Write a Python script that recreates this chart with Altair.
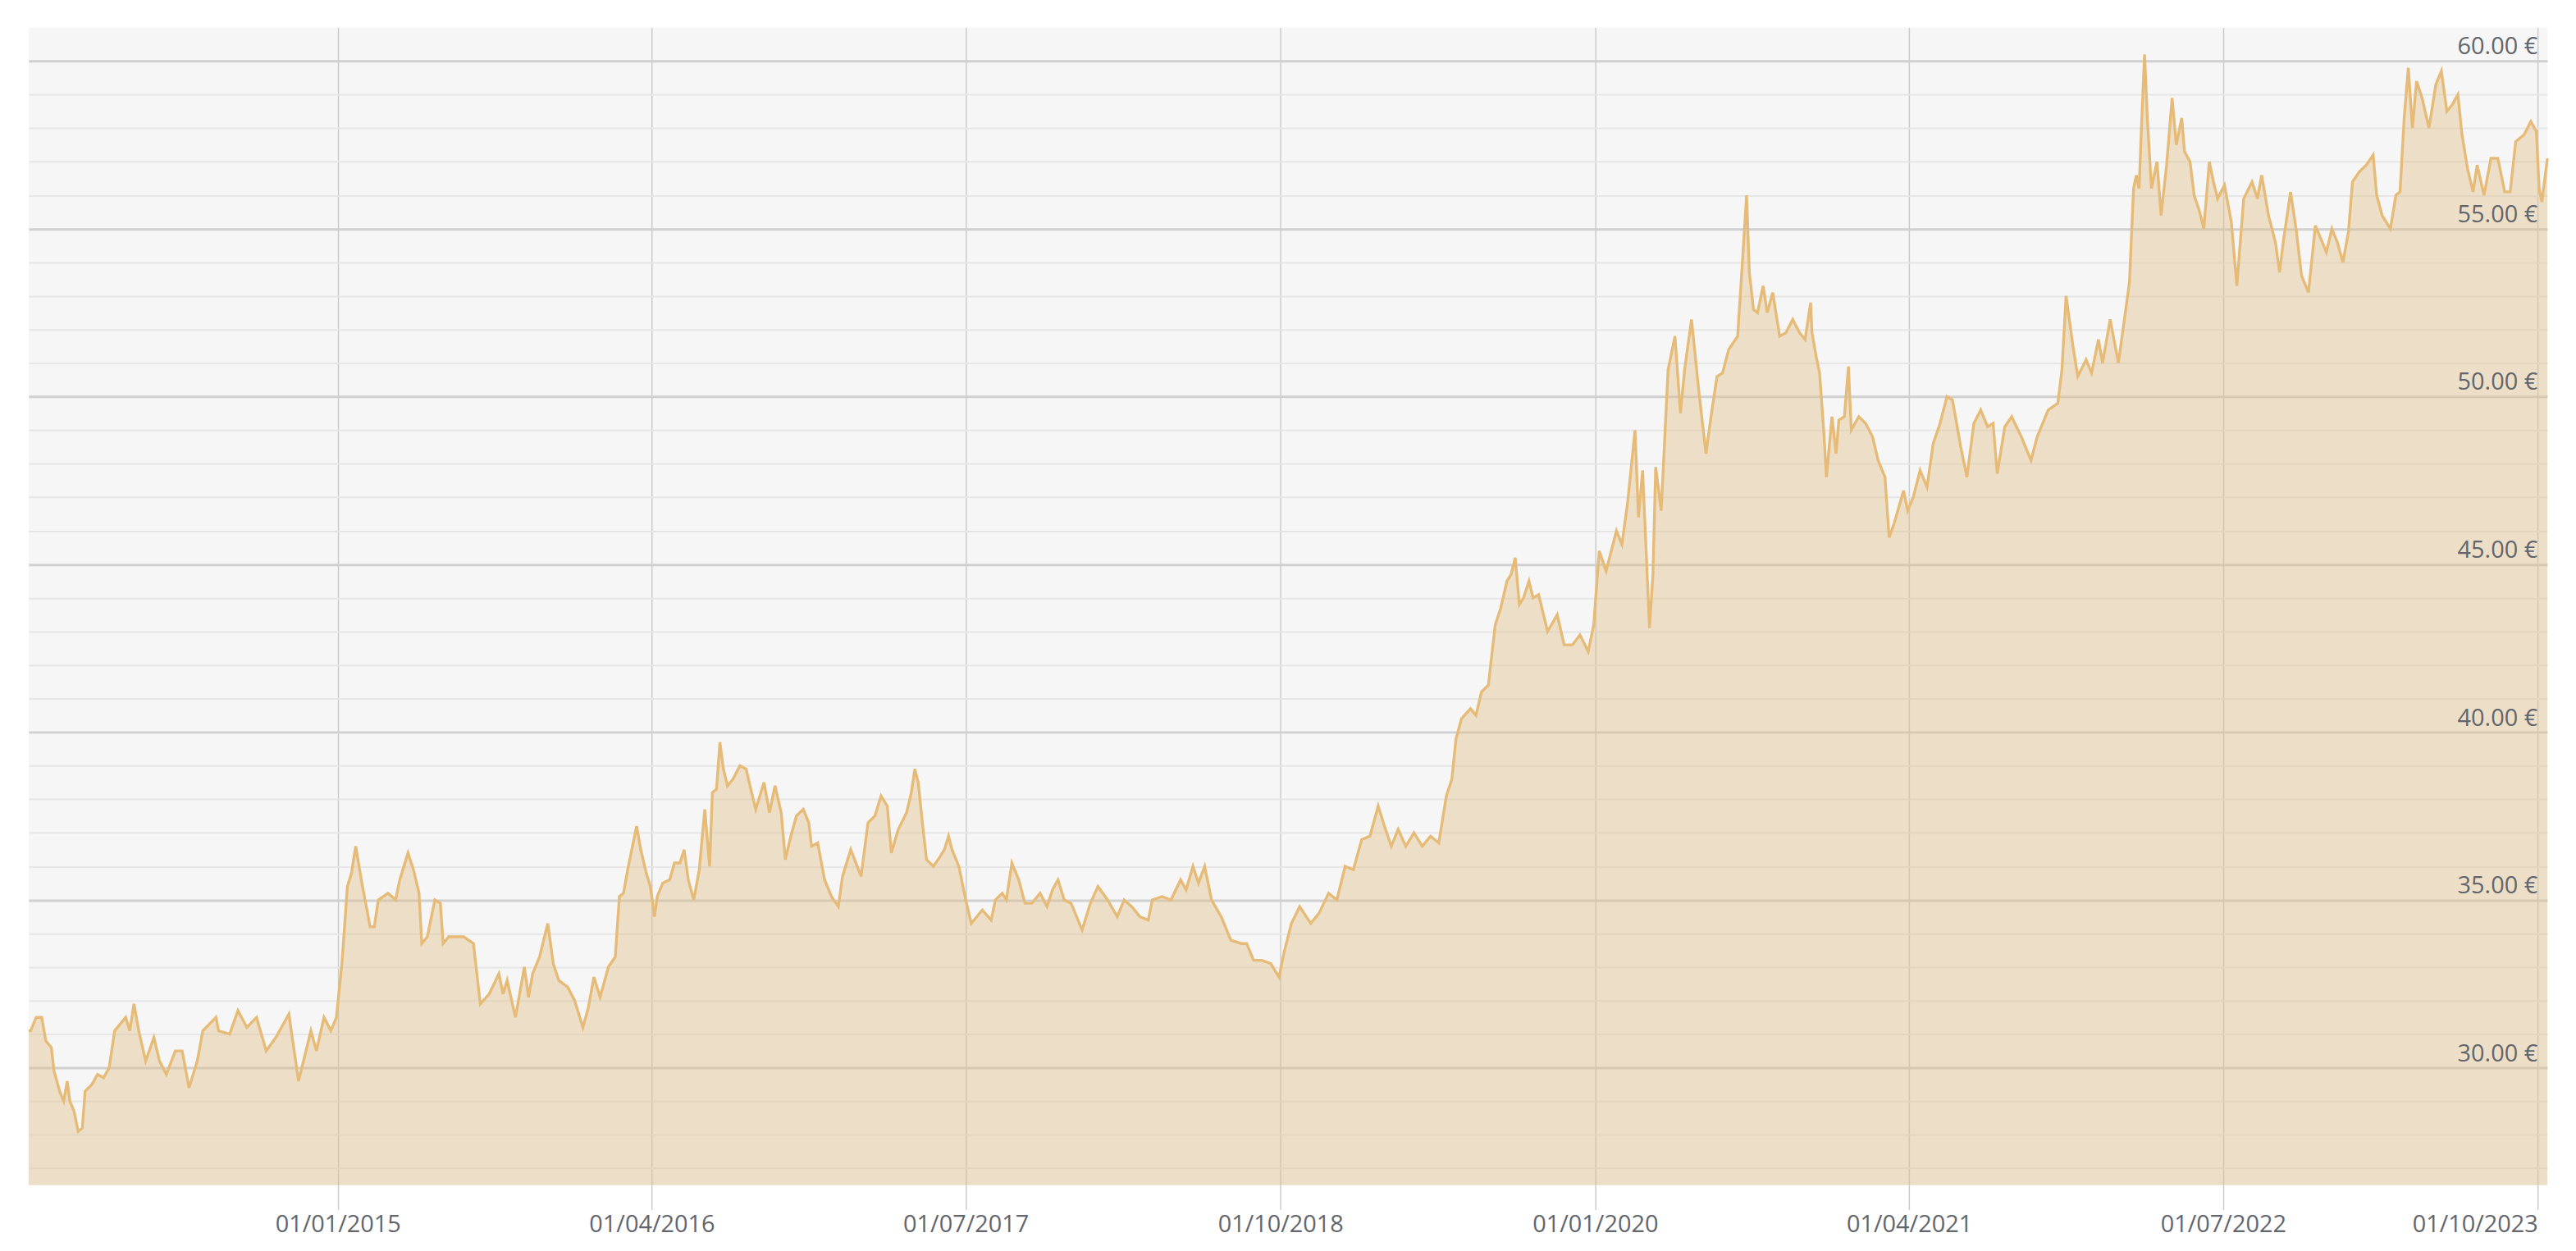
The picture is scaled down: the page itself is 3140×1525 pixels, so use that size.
import altair as alt
import pandas as pd

# ---- data ----
epoch = "2015-01-01"  # day offsets below are counted from this date

day_offsets = [
    -449, -446, -438, -430, -424, -416, -412, -404, -398, -393, -389, -383, -377, -371, -367,
    -357, -349, -340, -332, -324, -308, -302, -296, -289, -279, -267, -259, -249, -236, -226,
    -216, -204, -196, -177, -173, -157, -145, -132, -118, -104, -90, -71, -57, -39, -31, -20,
    -10, -2, 6, 14, 20, 26, 35, 47, 53, 59, 73, 84, 90, 102, 110, 118, 122, 130, 141, 149,
    153, 161, 177,
    183, 197, 207, 220, 234, 240, 246, 258, 271, 277, 283, 293, 305, 313, 321, 334, 344, 356,
    364, 372, 381, 393, 403, 409, 415, 421, 434, 440, 448, 454, 460, 464, 472, 482, 489, 497,
    503, 509, 517, 525, 533, 540, 544, 550, 555, 560, 566, 574, 584, 593, 601, 607, 613, 619,
    627, 635, 644, 650, 658, 666, 676, 684, 688, 697, 707, 717, 727, 733, 745, 760, 770, 780,
    789, 798,
    804, 814, 826, 833, 838, 843, 849, 855, 865, 875, 881, 887, 892, 902, 912, 920, 928, 936,
    949, 955, 965, 971, 979, 989, 998, 1008, 1020, 1030, 1038, 1046, 1055, 1065, 1081, 1093,
    1104, 1118, 1132, 1142, 1153, 1165, 1177, 1183, 1197, 1210, 1224, 1232, 1242, 1250, 1259,
    1269, 1283, 1297, 1312, 1320, 1330, 1342, 1355, 1367, 1375, 1385, 1397, 1413,
    1425, 1439, 1451, 1463, 1475, 1487, 1499, 1511, 1520, 1530, 1540, 1551, 1563, 1575, 1587,
    1599, 1610, 1618, 1624,
    1632, 1645, 1653, 1661, 1671, 1681, 1689, 1698, 1704, 1710, 1716, 1722, 1730, 1736, 1744,
    1757, 1771, 1781, 1793, 1804, 1816, 1824, 1832, 1842, 1857, 1865, 1873, 1884, 1889, 1895,
    1905, 1910, 1914, 1922, 1932, 1942, 1950, 1956, 1966, 1977, 1987, 1995, 2003, 2011, 2020,
    2033, 2039, 2046, 2050, 2056, 2062, 2070, 2076, 2084, 2094, 2103, 2113, 2123, 2131, 2139,
    2141, 2147, 2152, 2158, 2162, 2170, 2176, 2180, 2188, 2194, 2198, 2209, 2219, 2229, 2237,
    2247, 2253, 2260, 2274, 2280, 2288, 2298, 2308, 2317, 2327, 2337, 2345, 2357, 2366, 2376,
    2386, 2396, 2404, 2410, 2421, 2431, 2445, 2459, 2468, 2484, 2498, 2504, 2510, 2520, 2527,
    2539, 2547, 2557, 2563, 2574, 2586, 2598,
    2602, 2608, 2612, 2616, 2620, 2624, 2628, 2634, 2642, 2648, 2656, 2664, 2670, 2678, 2682,
    2690, 2696, 2704, 2710, 2718, 2724, 2730, 2740, 2750, 2758, 2768, 2780, 2788, 2794, 2804,
    2814, 2820, 2826, 2836, 2844, 2852, 2862, 2872, 2880, 2888, 2896, 2904, 2912, 2920, 2926,
    2936, 2946, 2956, 2961, 2969, 2981, 2989, 2995, 3001, 3007, 3013, 3019, 3027, 3037, 3047,
    3055, 3063, 3071, 3079, 3085, 3093, 3101, 3107, 3117, 3127, 3137, 3147, 3155, 3163, 3175,
    3185, 3193, 3197, 3201, 3209,
]

prices = [
    31.1, 31.1, 31.5, 31.5, 30.8, 30.6, 29.9, 29.3, 29.0, 29.6, 29.0, 28.7, 28.1, 28.2, 29.3,
    29.5, 29.8, 29.7, 30.0, 31.1, 31.5, 31.1, 31.9, 31.1, 30.2, 30.9, 30.2, 29.8, 30.5, 30.5,
    29.4, 30.2, 31.1, 31.5, 31.1, 31.0, 31.7, 31.2, 31.5, 30.5, 30.9, 31.6, 29.6, 31.1, 30.5, 31.5,
    31.1, 31.5, 33.1, 35.4, 35.8, 36.6, 35.5, 34.2, 34.2, 35.0, 35.2, 35.0, 35.6, 36.4, 35.9, 35.2,
    33.7, 33.9, 35.0, 34.9, 33.7, 33.9, 33.9,
    33.9, 33.7, 31.9, 32.2, 32.8, 32.2, 32.6, 31.5, 33.0, 32.1, 32.8, 33.3, 34.3, 33.1, 32.6, 32.4, 32.0, 31.2,
    31.8, 32.7, 32.1, 33.0, 33.3, 35.1, 35.2, 35.9, 37.2, 36.5, 35.8, 35.4, 34.5, 35.1, 35.5, 35.6, 36.1, 36.1,
    36.5, 35.6, 35.0, 35.9, 37.7, 36.0, 38.2, 38.3, 39.7, 38.9, 38.4, 38.6, 39.0, 38.9, 38.2, 37.7, 38.1, 38.5,
    37.6, 38.4, 37.6, 36.2, 36.9, 37.5, 37.7, 37.3, 36.6, 36.7, 35.6, 35.1, 34.8, 35.7, 36.5, 35.7, 37.3, 37.5,
    38.1, 37.8,
    36.4, 37.1, 37.6, 38.2, 38.9, 38.5, 37.3, 36.2, 36.0, 36.3, 36.5, 36.9, 36.5, 36.0, 35.0, 34.3, 34.5, 34.7,
    34.4, 35.0, 35.2, 35.0, 36.1, 35.6, 34.9, 34.9, 35.2, 34.8, 35.3, 35.6, 35.0, 34.9, 34.1, 34.9,
    35.4, 35.0, 34.5, 35.0, 34.8, 34.5, 34.4, 35.0, 35.1, 35.0, 35.6, 35.3, 36.0, 35.5, 36.0,
    35.0, 34.5, 33.8, 33.7, 33.7, 33.2, 33.2, 33.1, 32.7, 33.5, 34.3, 34.8, 34.3,
    34.6, 35.2, 35.0, 36.0, 35.9, 36.8, 36.9, 37.8, 37.2, 36.6, 37.1, 36.6, 37.0, 36.6, 36.9,
    36.7, 38.1, 38.6, 39.8,
    40.4, 40.7, 40.5, 41.2, 41.4, 43.2, 43.7, 44.5, 44.7, 45.2, 43.8, 44.0, 44.5, 44.0, 44.1,
    43.0, 43.5, 42.6, 42.6, 42.9, 42.4, 43.2, 45.4, 44.8, 46.0, 45.6, 46.8, 49.0, 46.4, 47.8,
    43.1, 44.7, 47.9, 46.6, 50.8, 51.8, 49.5, 50.8, 52.3, 50.1, 48.3, 49.5, 50.6, 50.7, 51.4,
    51.8, 53.7, 56.0, 53.7, 52.6, 52.5, 53.3, 52.5, 53.1, 51.8, 51.9, 52.3, 51.9, 51.7, 52.8,
    51.9, 51.2, 50.7, 49.0, 47.6, 49.4, 48.3, 49.3, 49.4, 50.9, 49.0, 49.4, 49.2, 48.8, 48.1,
    47.6, 45.8, 46.2, 47.2, 46.6, 47.0, 47.8, 47.3, 48.6, 49.2, 50.0, 49.9, 48.5, 47.6, 49.2,
    49.6, 49.1, 49.2, 47.7, 49.1, 49.4, 48.8, 48.1, 48.8, 49.6, 49.8, 50.8, 53.0, 51.5, 50.6,
    51.1, 50.7, 51.7, 51.0, 52.3, 51.0, 52.8,
    53.4, 56.2, 56.6, 56.2, 58.3, 60.2, 58.3, 56.2, 57.0, 55.4, 56.9, 58.9, 57.5, 58.3, 57.3,
    57.0, 56.0, 55.5, 55.0, 57.0, 56.4, 55.9, 56.3, 55.2, 53.3, 55.9, 56.4, 55.9, 56.6, 55.4,
    54.6, 53.7, 54.7, 56.1, 55.0, 53.6, 53.1, 55.1, 54.7, 54.3, 55.0, 54.6, 54.0, 54.9, 56.4,
    56.7, 56.9, 57.2, 56.0, 55.4, 55.0, 56.0, 56.1, 58.3, 59.8, 58.0, 59.4, 58.9, 58.0, 59.3,
    59.7, 58.5, 58.7, 59.0, 57.8, 56.8, 56.1, 56.9, 56.0, 57.1, 57.1, 56.1, 56.1, 57.6, 57.8,
    58.2, 57.9, 56.2, 55.8, 57.1,
]

tick_dates = ["2015-01-01", "2016-04-01", "2017-07-01", "2018-10-01",
              "2020-01-01", "2021-04-01", "2022-07-01", "2023-10-01"]
grid_prices = list(range(27, 61))          # light grid every 1 €
label_prices = [30, 35, 40, 45, 50, 55, 60]  # labelled every 5 €
y_min, y_max = 26.5, 61.0

# ---- build tables ----
dates = pd.Timestamp(epoch) + pd.to_timedelta(day_offsets, unit="D")
df = pd.DataFrame({"date": dates, "price": prices})
labels_df = pd.DataFrame({
    "price": label_prices,
    "label": [f"{v:.2f} €" for v in label_prices],
})


def to_dt(ts):
    ts = pd.Timestamp(ts)
    return alt.DateTime(year=ts.year, month=ts.month, date=ts.day)


x_domain = [to_dt(dates.min()), to_dt(dates.max())]
tick_values = [to_dt(d) for d in tick_dates]

LABEL_COLOR = "#62666c"
FONT = "Open Sans"

x_scale = alt.Scale(domain=x_domain, nice=False)
y_scale = alt.Scale(domain=[y_min, y_max], nice=False, zero=False)

x_enc = alt.X(
    "date:T",
    scale=x_scale,
    axis=alt.Axis(
        values=tick_values,
        format="%d/%m/%Y",
        title=None,
        domain=False,
        grid=True,
        gridColor="#cbcbcb",
        gridWidth=1.5,
        ticks=True,
        tickColor="#cbcbcb",
        tickWidth=1.5,
        tickSize=30,
        labelPadding=4,
        labelFont=FONT,
        labelFontSize=29,
        labelColor=LABEL_COLOR,
        labelOverlap=False,
        labelFlush=20,
    ),
)

y_enc = alt.Y(
    "price:Q",
    scale=y_scale,
    axis=alt.Axis(
        orient="right",
        values=grid_prices,
        title=None,
        domain=False,
        ticks=False,
        labels=False,
        grid=True,
        gridColor=alt.condition("datum.value % 5 === 0", alt.value("#d0d0d0"), alt.value("#e6e6e6")),
        gridWidth=alt.condition("datum.value % 5 === 0", alt.value(3), alt.value(2)),
    ),
)

base = alt.Chart(df).encode(x=x_enc, y=y_enc)

area = base.mark_area(color="#e0be82", opacity=0.4, interpolate="linear").encode(
    y2=alt.datum(y_min)
)
line = base.mark_line(color="#e6bb78", strokeWidth=3.4, interpolate="linear")

price_labels = alt.Chart(labels_df).mark_text(
    align="right",
    baseline="alphabetic",
    dx=-12,
    dy=-8,
    font=FONT,
    fontSize=29,
    color=LABEL_COLOR,
).encode(
    x=alt.datum(x_domain[1], type="temporal"),
    y=alt.Y("price:Q", scale=y_scale),
    text="label:N",
)

chart = (
    alt.layer(area, line, price_labels)
    .properties(
        width=3085,
        height=1418,
        padding={"left": 20, "top": 22, "right": 20, "bottom": 4},
        background="white",
    )
    .configure_view(fill="#f6f6f6", strokeWidth=0)
)

chart.save("out.html", embed_options={"renderer": "svg", "actions": False})
